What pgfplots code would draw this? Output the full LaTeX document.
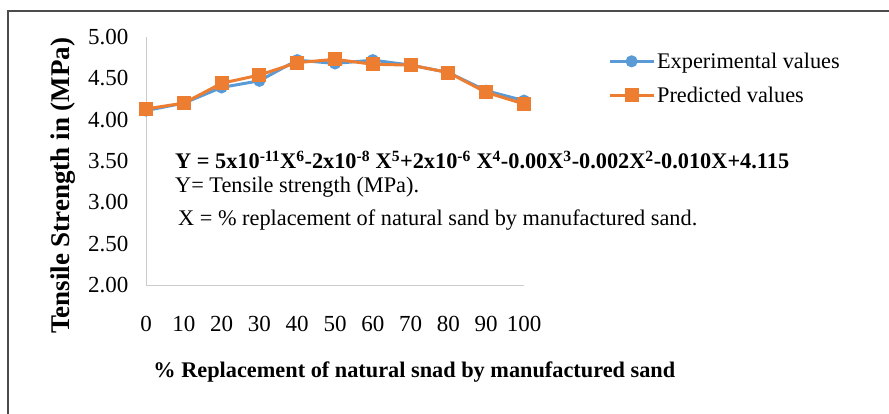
\documentclass[border=0pt]{standalone}
\usepackage{pgfplots}
\pgfplotsset{compat=1.18}
\usepackage{fontspec}
\setmainfont{Liberation Serif}
\definecolor{cblue}{HTML}{5B9BD5}
\definecolor{corange}{HTML}{ED7D31}
\begin{document}
\begin{tikzpicture}[x=1pt,y=1pt]
\path[use as bounding box] (0,0) rectangle (889,413);
\draw[black!70, line width=1.2pt] (8,-2) -- (8,402) -- (891,402);
\begin{axis}[
  at={(146pt,128pt)}, anchor=south west,
  scale only axis, width=378pt, height=248pt,
  xmin=0, xmax=100, ymin=2, ymax=5,
  axis x line*=bottom, axis y line*=left,
  axis line style={black!20, line width=0.8pt},
  major tick length=0pt,
  xtick={0,10,...,100},
  ytick={2,2.5,...,5},
  /pgf/number format/assume math mode=true,
  yticklabel={\pgfmathprintnumber[fixed,fixed zerofill,precision=2]{\tick}},
  ticklabel style={font=\fontsize{23}{26}\selectfont},
  xticklabel style={yshift=-28pt},
  yticklabel style={xshift=-14pt},
  ylabel={\textbf{Tensile Strength in (MPa)}},
  ylabel style={at={(axis description cs:-0.22,0.40)}, anchor=center, font=\fontsize{27}{30}\selectfont},
  xlabel={\textbf{\% Replacement of natural snad by manufactured sand}},
  xlabel style={at={(axis description cs:0.71,-0.35)}, anchor=center, font=\fontsize{22.3}{25}\selectfont},
  clip=false,
  legend style={at={(axis description cs:1.222,0.945)}, anchor=north west, draw=none, fill=none,
    font=\fontsize{22.3}{25}\selectfont, row sep=13pt, inner sep=0pt},
  legend cell align=left,
  legend image code/.code={
    \draw[#1, mark repeat=2, mark phase=2] plot coordinates {(0pt,0pt) (22pt,0pt) (44pt,0pt)};
  },
]
\addplot[cblue, line width=3pt, mark=*, mark size=4.5pt, mark options={solid, fill=cblue, draw=cblue}]
  coordinates {(0,4.11) (10,4.20) (20,4.39) (30,4.47) (40,4.72) (50,4.68) (60,4.72) (70,4.66) (80,4.57) (90,4.35) (100,4.23)};
\addlegendentry{Experimental values}
\addplot[corange, line width=3pt, mark=square*, mark size=5.5pt, mark options={solid, fill=corange, draw=corange}]
  coordinates {(0,4.13) (10,4.20) (20,4.44) (30,4.54) (40,4.69) (50,4.73) (60,4.67) (70,4.66) (80,4.57) (90,4.33) (100,4.19)};
\addlegendentry{Predicted values}
\end{axis}
\node[anchor=west, font=\bfseries\fontsize{22.3}{25}\selectfont, inner sep=0pt] at (175,253)
  {Y = 5x10\textsuperscript{-11}X\textsuperscript{6}-2x10\textsuperscript{-8} X\textsuperscript{5}+2x10\textsuperscript{-6} X\textsuperscript{4}-0.00X\textsuperscript{3}-0.002X\textsuperscript{2}-0.010X+4.115};
\node[anchor=west, font=\fontsize{22.3}{25}\selectfont, inner sep=0pt] at (175,226)
  {Y= Tensile strength (MPa).};
\node[anchor=west, font=\fontsize{22.3}{25}\selectfont, inner sep=0pt] at (178,193)
  {X = \% replacement of natural sand by manufactured sand.};
\end{tikzpicture}
\end{document}
